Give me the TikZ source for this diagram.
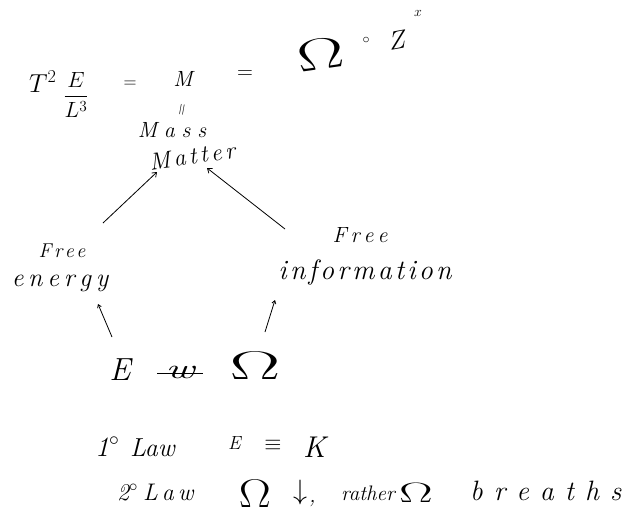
\RequirePackage{fix-cm}
\documentclass[tikz,border=0pt]{standalone}
\usepackage{amsmath,amssymb}
\usepackage{fontspec}
\usetikzlibrary{arrows.meta}
\newcommand{\fs}[1]{\fontsize{#1}{#1}\selectfont}
\ExplSyntaxOn
\NewDocumentCommand{\lspaced}{mm}{\tl_map_inline:nn {#2}{##1\kern#1}\kern-#1}
\ExplSyntaxOff
\begin{document}
\begin{tikzpicture}[x=1pt,y=-1pt,
  hw/.style={inner sep=0pt, font=\itshape},
  link/.style={line width=0.8pt, -{Straight Barb[length=4pt,width=6pt]}},
  shortlink/.style={line width=0.8pt, -{Straight Barb[length=3pt,width=4pt]}}]
\useasboundingbox (0,0) rectangle (625,523);
% top equation
\node[hw, anchor=base west] (T) at (29,92) {\fs{26}$T^{2}$};
\node[hw] (frac) at (76,95) {\fs{22}$\dfrac{E}{L^{3}}$};
\node[hw] (eq1) at (130,84) {\fs{18}$=$};
\node[hw, anchor=base] (M) at (183,86) {\fs{22}M};
\node[hw] (eq2) at (245,75) {\fs{22}$=$};
\node[hw, rotate=8] (omtop) at (321,54) {\fs{44}\scalebox{1.6}[1]{$\Omega$}};
\node[hw] (deg) at (366,40) {\fs{14}$\circ$};
\node[hw, rotate=10] (Z) at (398,40) {\fs{26}$Z$};
\node[hw] (x) at (418,13) {\fs{14}$x$};
\node[hw, rotate=80] (is) at (183,110) {\fs{16}$=$};
% Mass / Matter
\node[hw] (mass) at (172,130) {\fs{22}\lspaced{6.8pt}{Mass}};
\node[hw, rotate=8] (matter) at (192,156) {\fs{24}\lspaced{3.4pt}{Matter}};
% Free energy / Free information
\node[hw] (freeL) at (62,251) {\fs{20}\lspaced{2.5pt}{Free}};
\node[hw] (energy) at (60,283) {\fs{26}\lspaced{4.8pt}{energy}};
\node[hw] (freeR) at (360,235) {\fs{22}\lspaced{4pt}{Free}};
\node[hw] (info) at (365,272) {\fs{28}\lspaced{3.2pt}{information}};
% arrows into Mass/Matter
\coordinate (aL) at (103,223);
\coordinate (aR) at (285,229);
\coordinate (mL) at (157,172);
\coordinate (mR) at (207,168);
\draw[link] (aL) -- (mL);
\draw[link] (aR) -- (mR);
% bottom row
\node[hw] (E) at (120,370) {\fs{32}E};
\node[hw] (w) at (180,372) {\fs{28}\makebox[0pt][l]{\kern-8pt\rule[4pt]{46pt}{0.8pt}}\scalebox{1.6}[1]{w}};
\node[hw] (om) at (255,366) {\fs{40}\scalebox{1.9}[1]{$\Omega$}};
\coordinate (sL) at (98,304);
\coordinate (sR) at (275,300);
\coordinate (sLb) at (112,337);
\coordinate (sRb) at (265,332);
\draw[shortlink] (sLb) -- (sL);
\draw[shortlink] (sRb) -- (sR);
% laws
\node[hw, anchor=base west] (l1) at (95,456) {\fs{28}1$^{\circ}$};
\node[hw, anchor=base west] (law1) at (130,456) {\fs{26}Law};
\node[hw, anchor=base west] (E1) at (228,449) {\fs{19}E};
\node[hw] (equiv) at (273,445) {\fs{22}$\equiv$};
\node[hw, anchor=base west] (K) at (303,457) {\fs{30}K};
\node[hw, anchor=base west] (l2) at (117,500) {\fs{24}2$^{\circ}$};
\node[hw, anchor=base west] (law2) at (143,500) {\fs{24}\lspaced{4pt}{Law}};
\node[hw] (om2) at (255,494) {\fs{40}\scalebox{1.2}[1]{$\Omega$}};
\node[hw] (down) at (300,492) {\fs{28}$\downarrow$};
\node[hw, anchor=base west] (comma) at (309,502) {\fs{22},};
\node[hw, anchor=base west] (rather) at (341,500) {\fs{21}rather};
\node[hw] (om3) at (416,493) {\fs{28}\scalebox{1.8}[1]{$\Omega$}};
\node[hw, anchor=base west] (breaths) at (470,500) {\fs{28}\lspaced{11pt}{breaths}};
\end{tikzpicture}
\end{document}
